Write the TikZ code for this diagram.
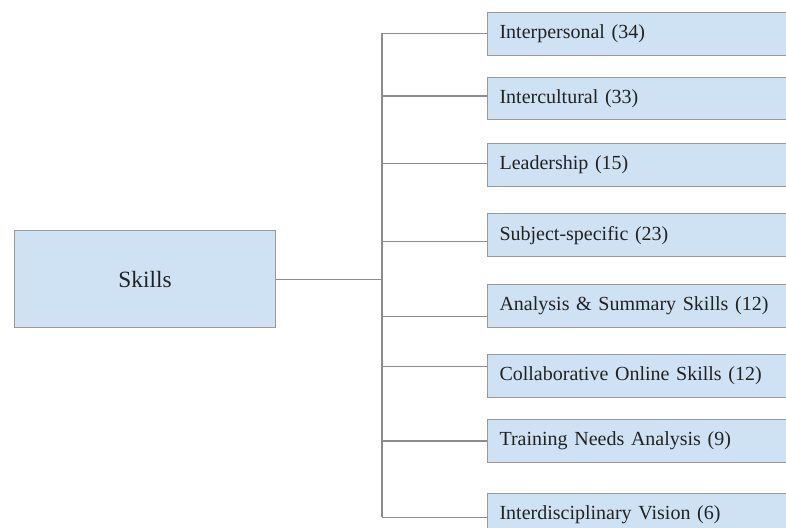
\documentclass[tikz,border=0pt]{standalone}
\usepackage{fontspec}
\setmainfont{Liberation Serif}
\definecolor{boxfill}{HTML}{CFE2F3}
\definecolor{boxline}{HTML}{999999}
\definecolor{wire}{HTML}{8C8C8C}
\definecolor{txt}{HTML}{222222}
\begin{document}
\begin{tikzpicture}[x=0.75pt,y=-0.75pt,
  leaf/.style={draw=boxline,fill=boxfill,line width=0.8pt,rectangle,anchor=north west,
    minimum width=240pt,minimum height=31.9pt,text width=222pt,align=left,inner xsep=9pt,
    inner ysep=0pt,font=\fontsize{15}{18}\selectfont,text=txt},
  root/.style={draw=boxline,fill=boxfill,line width=0.8pt,rectangle,anchor=north west,
    minimum width=195.75pt,minimum height=72.75pt,inner sep=0pt,
    font=\fontsize{17.5}{20}\selectfont,text=txt},
  wireline/.style={draw=wire,line width=0.8pt}]
\useasboundingbox (0,0) rectangle (786,528);
\clip (0,0) rectangle (786,528);
\node[root] (skills) at (14,230) {Skills};
\node[leaf] (n1) at (487,12.3) {Interpersonal (34)};
\node[leaf] (n2) at (487,76.7) {Intercultural (33)};
\node[leaf] (n3) at (487,143.3) {Leadership (15)};
\node[leaf] (n4) at (487,213.3) {Subject-specific (23)};
\node[leaf] (n5) at (487,284) {Analysis \& Summary Skills (12)};
\node[leaf] (n6) at (487,354) {Collaborative Online Skills (12)};
\node[leaf] (n7) at (487,419.3) {Training Needs Analysis (9)};
\node[leaf] (n8) at (487,493.3) {Interdisciplinary Vision (6)};
\coordinate (j1) at (382,33.3);
\coordinate (j2) at (382,96);
\coordinate (j3) at (382,163.3);
\coordinate (j4) at (382,241.7);
\coordinate (j5) at (382,316.7);
\coordinate (j6) at (382,366.7);
\coordinate (j7) at (382,441);
\coordinate (j8) at (382,517.3);
\draw[wireline] (j1) -- (j8);
\draw[wireline] (skills.east) -- (skills.east -| j1);
\foreach \i in {1,...,8} {
  \draw[wireline] (j\i) -- (j\i -| n\i.west);
}
\end{tikzpicture}
\end{document}
